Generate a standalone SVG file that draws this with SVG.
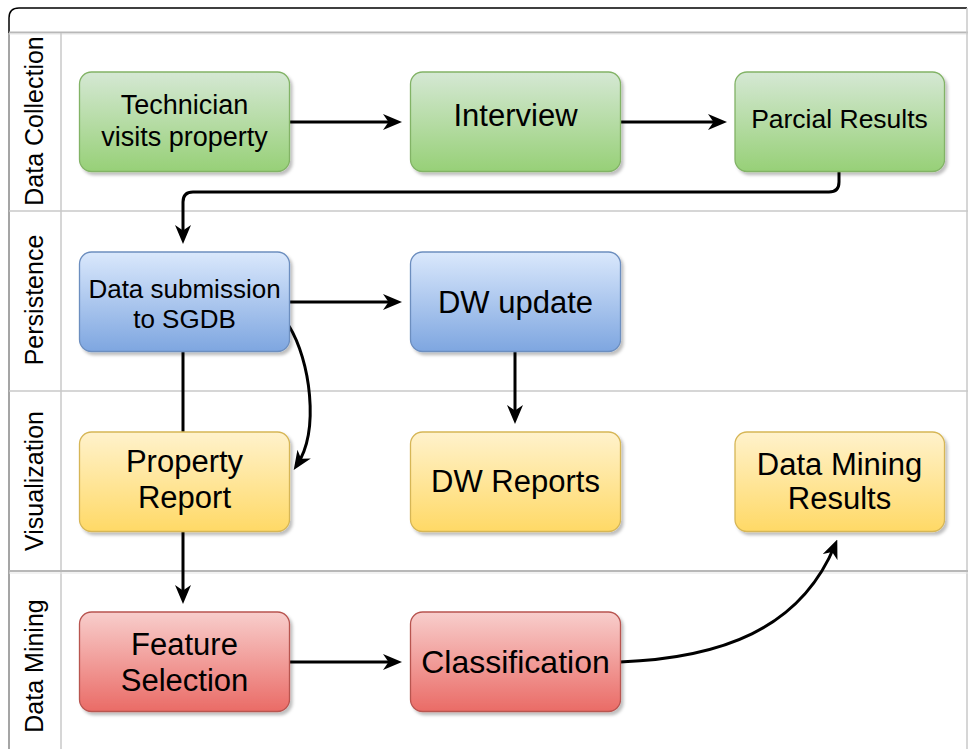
<svg xmlns="http://www.w3.org/2000/svg" width="968" height="749" viewBox="0 0 968 749">
<style>
  .lane{fill:none;stroke:#c8c8c8;stroke-width:1.5}
  .lbl{font-family:"Liberation Sans",Arial,sans-serif;font-size:25px;fill:#000;text-anchor:middle}
  .t{font-family:"Liberation Sans",Arial,sans-serif;fill:#000;text-anchor:middle}
  .edge{fill:none;stroke:#000;stroke-width:3}
  .box{stroke-width:1.3}
</style>
<defs>
  <linearGradient id="gG" x1="0" y1="0" x2="0" y2="1"><stop offset="0" stop-color="#d5e8d4"/><stop offset="1" stop-color="#97d077"/></linearGradient>
  <linearGradient id="gB" x1="0" y1="0" x2="0" y2="1"><stop offset="0" stop-color="#dae8fc"/><stop offset="1" stop-color="#7ea6e0"/></linearGradient>
  <linearGradient id="gY" x1="0" y1="0" x2="0" y2="1"><stop offset="0" stop-color="#fff2cc"/><stop offset="1" stop-color="#ffd966"/></linearGradient>
  <linearGradient id="gR" x1="0" y1="0" x2="0" y2="1"><stop offset="0" stop-color="#f8cecc"/><stop offset="1" stop-color="#ea6b66"/></linearGradient>
  <filter id="sh" x="-10%" y="-10%" width="130%" height="130%"><feDropShadow dx="2.5" dy="3" stdDeviation="1.5" flood-color="#000" flood-opacity="0.25"/></filter>
  <marker id="arr" viewBox="0 0 19 16" markerWidth="19" markerHeight="16" refX="13" refY="8" orient="auto" markerUnits="userSpaceOnUse">
    <path d="M0,0 L19,8 L0,16 L5.5,8 Z" fill="#000"/>
  </marker>
</defs>
<rect x="0" y="0" width="968" height="749" fill="#fff"/>
<g id="pool">
  <path d="M9,760 L9,18 Q9,8 19,8 L967,8" fill="none" stroke="#000" stroke-width="1.5"/>
  <line x1="9" y1="32.5" x2="968" y2="32.5" stroke="#b8b8b8" stroke-width="2"/>
  <line x1="9" y1="34" x2="968" y2="34" stroke="#e6e6e6" stroke-width="1.2"/>
  <line x1="61" y1="33" x2="61" y2="760" class="lane"/>
  <line x1="9" y1="33" x2="9" y2="760" class="lane"/>
  <line x1="967" y1="8" x2="967" y2="760" class="lane"/>
  <line x1="9" y1="211" x2="968" y2="211" class="lane"/>
  <line x1="9" y1="391" x2="968" y2="391" class="lane"/>
  <line x1="9" y1="571" x2="968" y2="571" stroke="#b8b8b8" stroke-width="2"/>
  <line x1="9" y1="573" x2="968" y2="573" stroke="#e6e6e6" stroke-width="1.2"/>
</g>
<g id="lane-labels">
  <text class="lbl" transform="translate(43,121) rotate(-90)">Data Collection</text>
  <text class="lbl" transform="translate(43,300) rotate(-90)">Persistence</text>
  <text class="lbl" transform="translate(43,481) rotate(-90)">Visualization</text>
  <text class="lbl" transform="translate(43,666) rotate(-90)">Data Mining</text>
</g>
<g id="connectors">
  <line class="edge" x1="289" y1="122" x2="396" y2="122" marker-end="url(#arr)"/>
  <line class="edge" x1="620" y1="122" x2="721" y2="122" marker-end="url(#arr)"/>
  <path class="edge" d="M839,171 L839,182 Q839,192 829,192 L193,192 Q183,192 183,202 L183,238" marker-end="url(#arr)"/>
  <line class="edge" x1="289" y1="302" x2="396" y2="302" marker-end="url(#arr)"/>
  <line class="edge" x1="183" y1="352" x2="183" y2="432"/>
  <path class="edge" d="M289,326 C310,360 320,430 297,465" marker-end="url(#arr)"/>
  <line class="edge" x1="515" y1="351" x2="515" y2="418" marker-end="url(#arr)"/>
  <line class="edge" x1="183" y1="531" x2="183" y2="598" marker-end="url(#arr)"/>
  <line class="edge" x1="289" y1="662" x2="396" y2="662" marker-end="url(#arr)"/>
  <path class="edge" d="M620,662 C720,658 800,630 835,545" marker-end="url(#arr)"/>
</g>
<g id="n-technician">
  <rect class="box" x="79.5" y="72" width="210" height="99.5" rx="12" fill="url(#gG)" stroke="#82b366" filter="url(#sh)"/>
  <text class="t" font-size="27" x="184.5" y="114">Technician</text>
  <text class="t" font-size="27" x="184.5" y="146">visits property</text>
</g>
<g id="n-interview">
  <rect class="box" x="410.5" y="72" width="210" height="99.5" rx="12" fill="url(#gG)" stroke="#82b366" filter="url(#sh)"/>
  <text class="t" font-size="31" x="515.5" y="126">Interview</text>
</g>
<g id="n-parcial">
  <rect class="box" x="735" y="72" width="209.5" height="99.5" rx="12" fill="url(#gG)" stroke="#82b366" filter="url(#sh)"/>
  <text class="t" font-size="26.5" x="839.5" y="128">Parcial Results</text>
</g>
<g id="n-datasub">
  <rect class="box" x="79.5" y="252" width="210" height="99.5" rx="12" fill="url(#gB)" stroke="#6c8ebf" filter="url(#sh)"/>
  <text class="t" font-size="26" x="184.5" y="298">Data submission</text>
  <text class="t" font-size="26" x="184.5" y="328">to SGDB</text>
</g>
<g id="n-dwupdate">
  <rect class="box" x="410.5" y="252" width="210" height="99.5" rx="12" fill="url(#gB)" stroke="#6c8ebf" filter="url(#sh)"/>
  <text class="t" font-size="31" x="515.5" y="313">DW update</text>
</g>
<g id="n-propreport">
  <rect class="box" x="79.5" y="432" width="210" height="99.5" rx="12" fill="url(#gY)" stroke="#d6b656" filter="url(#sh)"/>
  <text class="t" font-size="31" x="184.5" y="472">Property</text>
  <text class="t" font-size="31" x="184.5" y="508">Report</text>
</g>
<g id="n-dwreports">
  <rect class="box" x="410.5" y="432" width="210" height="99.5" rx="12" fill="url(#gY)" stroke="#d6b656" filter="url(#sh)"/>
  <text class="t" font-size="31" x="515.5" y="492">DW Reports</text>
</g>
<g id="n-dmresults">
  <rect class="box" x="735" y="432" width="209.5" height="99.5" rx="12" fill="url(#gY)" stroke="#d6b656" filter="url(#sh)"/>
  <text class="t" font-size="31" x="839.5" y="475">Data Mining</text>
  <text class="t" font-size="31" x="839.5" y="509">Results</text>
</g>
<g id="n-feature">
  <rect class="box" x="79.5" y="612" width="210" height="99.5" rx="12" fill="url(#gR)" stroke="#b85450" filter="url(#sh)"/>
  <text class="t" font-size="31" x="184.5" y="655">Feature</text>
  <text class="t" font-size="31" x="184.5" y="691">Selection</text>
</g>
<g id="n-classification">
  <rect class="box" x="410.5" y="612" width="210" height="99.5" rx="12" fill="url(#gR)" stroke="#b85450" filter="url(#sh)"/>
  <text class="t" font-size="32" x="515.5" y="673">Classification</text>
</g>
</svg>
